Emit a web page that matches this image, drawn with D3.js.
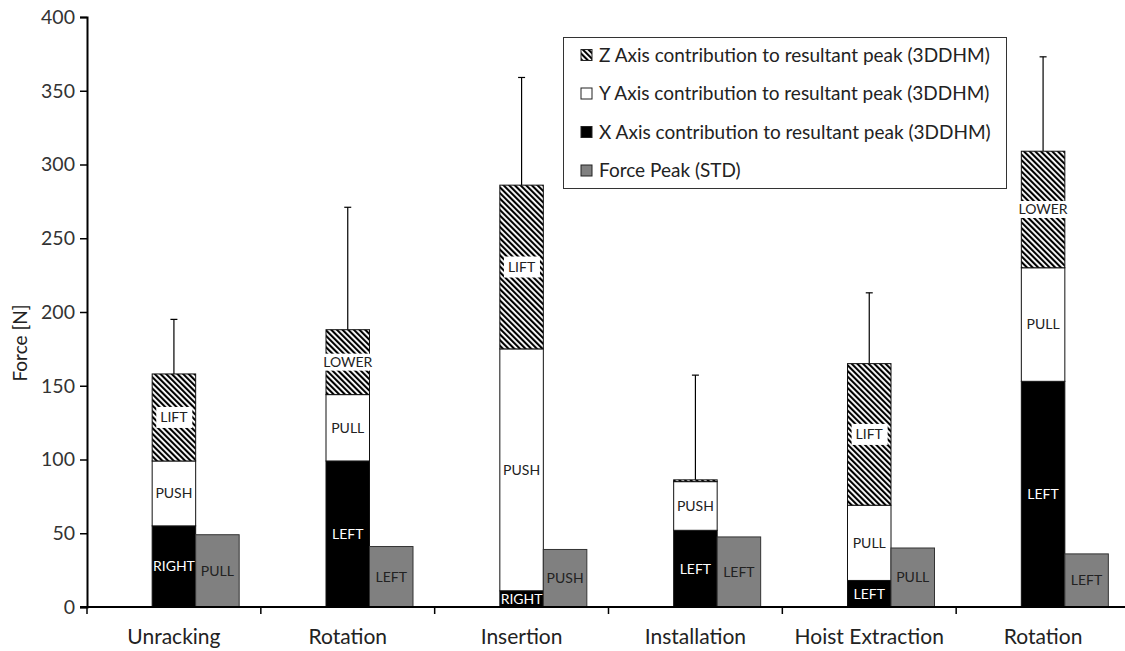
<!DOCTYPE html>
<html>
<head>
<meta charset="utf-8">
<script src="https://cdn.jsdelivr.net/npm/d3@7"></script>
<style>
  html, body { margin: 0; padding: 0; background: #fff; }
  svg { display: block; font-family: Lato, "Open Sans", sans-serif; }
</style>
</head>
<body>
<svg id="chart" width="1125" height="651"></svg>
<script>
// Tasks (two different "Rotation" tasks, so bars are keyed by index)
const categories = ["Unracking", "Rotation", "Insertion", "Installation", "Hoist Extraction", "Rotation"];

// Axis contributions to the resultant peak (3DDHM), in N
const xAxisForce = [55, 99, 11, 52, 18, 153];
const yAxisForce = [44, 45, 164, 33, 51, 77];
const zAxisForce = [59, 44, 111, 1.2, 96, 79];
// Upward error on the resultant peak
const resultantError = [37, 83, 73, 71, 48, 64];
// Force peak measured with the standard method
const forcePeakSTD = [49, 41, 39, 47.5, 40, 36];

// Direction labels drawn inside each segment
const xLabels = ["RIGHT", "LEFT", "RIGHT", "LEFT", "LEFT", "LEFT"];
const yLabels = ["PUSH", "PULL", "PUSH", "PUSH", "PULL", "PULL"];
const zLabels = ["LIFT", "LOWER", "LIFT", "", "LIFT", "LOWER"];
const stdLabels = ["PULL", "LEFT", "PUSH", "LEFT", "PULL", "LEFT"];

const yTicks = [0, 50, 100, 150, 200, 250, 300, 350, 400];

const legendItems = [
  { key: "z", text: "Z Axis contribution to resultant peak (3DDHM)" },
  { key: "y", text: "Y Axis contribution to resultant peak (3DDHM)" },
  { key: "x", text: "X Axis contribution to resultant peak (3DDHM)" },
  { key: "std", text: "Force Peak (STD)" }
];

const svg = d3.select("#chart");
const plotLeft = 87, plotRight = 1130, plotTop = 17, plotBottom = 607;

const x = d3.scaleBand().domain(d3.range(categories.length)).range([plotLeft, plotRight]);
const y = d3.scaleLinear().domain([0, 400]).range([plotBottom, plotTop]);
const barW = 43.5;

// Hatch pattern for the Z contribution (wide downward diagonal)
const defs = svg.append("defs");
const pat = defs.append("pattern")
  .attr("id", "hatch")
  .attr("patternUnits", "userSpaceOnUse")
  .attr("width", 4).attr("height", 4)
  .attr("patternTransform", "rotate(-45)");
pat.append("rect").attr("width", 4).attr("height", 4).attr("fill", "#fff");
pat.append("rect").attr("width", 2.1).attr("height", 4).attr("fill", "#000");

const fills = { x: "#000", y: "#fff", z: "url(#hatch)", std: "#808080" };

// Stacked segments
const rows = categories.map((c, i) => {
  const x1 = xAxisForce[i];
  const y1 = x1 + yAxisForce[i];
  const z1 = y1 + zAxisForce[i];
  return [
    { i, key: "x", v0: 0, v1: x1, label: xLabels[i] },
    { i, key: "y", v0: x1, v1: y1, label: yLabels[i] },
    { i, key: "z", v0: y1, v1: z1, label: zLabels[i] }
  ];
});
const segs = rows.flat();
const totals = rows.map(r => r[2].v1);

const barX = i => x(i) + x.bandwidth() / 2 - barW / 2;

// Error bars (up only)
const err = svg.append("g").attr("stroke", "#000").attr("stroke-width", 1.2);
categories.forEach((c, i) => {
  const cx = barX(i) + barW / 2;
  err.append("line").attr("x1", cx).attr("x2", cx)
    .attr("y1", y(totals[i])).attr("y2", y(totals[i] + resultantError[i]));
  err.append("line").attr("x1", cx - 3.5).attr("x2", cx + 3.5)
    .attr("y1", y(totals[i] + resultantError[i])).attr("y2", y(totals[i] + resultantError[i]));
});

svg.append("g").selectAll("rect").data(segs).join("rect")
  .attr("x", d => barX(d.i))
  .attr("y", d => y(d.v1))
  .attr("width", barW)
  .attr("height", d => y(d.v0) - y(d.v1))
  .attr("fill", d => fills[d.key])
  .attr("stroke", "#111")
  .attr("stroke-width", 1);

// STD force peak bars, next to the stacked bar
svg.append("g").selectAll("rect").data(forcePeakSTD).join("rect")
  .attr("x", (d, i) => barX(i) + barW)
  .attr("y", d => y(d))
  .attr("width", barW)
  .attr("height", d => y(0) - y(d))
  .attr("fill", fills.std)
  .attr("stroke", "#333")
  .attr("stroke-width", 1);

// Segment labels
const lab = svg.append("g").attr("font-size", 14).attr("text-anchor", "middle");
segs.filter(d => d.label).forEach(d => {
  const cx = barX(d.i) + barW / 2;
  const cy = y((d.v0 + d.v1) / 2);
  if (d.key === "z") {
    const bg = lab.append("rect").attr("fill", "#fff");
    const t = lab.append("text").attr("x", cx).attr("y", cy).attr("dy", "0.35em")
      .attr("fill", "#222").text(d.label);
    const bb = t.node().getBBox();
    const h = d.label === "LIFT" ? 21 : 17;
    bg.attr("x", bb.x - 4).attr("y", cy - h / 2)
      .attr("width", bb.width + 8).attr("height", h);
  } else {
    lab.append("text").attr("x", cx).attr("y", cy).attr("dy", "0.35em")
      .attr("fill", d.key === "x" ? "#fff" : "#222").text(d.label);
  }
});
forcePeakSTD.forEach((v, i) => {
  lab.append("text").attr("x", barX(i) + barW * 1.5).attr("y", y(v / 2)).attr("dy", "0.35em")
    .attr("fill", "#222").text(stdLabels[i]);
});

// Axes
const yAxis = svg.append("g").attr("transform", `translate(${plotLeft},0)`)
  .call(d3.axisLeft(y).tickValues(yTicks).tickSize(7).tickPadding(5));
yAxis.select(".domain").attr("stroke", "#000").attr("stroke-width", 2);
yAxis.selectAll(".tick line").attr("stroke", "#000").attr("stroke-width", 1.5);
yAxis.selectAll(".tick text").attr("font-size", 19.5).attr("fill", "#333")
  .attr("font-family", "Lato, sans-serif");

const xAxis = svg.append("g").attr("transform", `translate(0,${plotBottom})`);
xAxis.append("line").attr("x1", plotLeft - 7).attr("x2", plotRight).attr("y1", 0).attr("y2", 0)
  .attr("stroke", "#000").attr("stroke-width", 2);
xAxis.selectAll("line.tk").data(d3.range(categories.length + 1)).join("line")
  .attr("class", "tk")
  .attr("x1", i => plotLeft + i * x.step()).attr("x2", i => plotLeft + i * x.step())
  .attr("y1", 0).attr("y2", 7)
  .attr("stroke", "#000").attr("stroke-width", 1.5);
xAxis.selectAll("text").data(categories).join("text")
  .attr("x", (d, i) => x(i) + x.bandwidth() / 2)
  .attr("y", 37)
  .attr("text-anchor", "middle")
  .attr("font-size", 21)
  .attr("fill", "#222")
  .text(d => d);

svg.append("text")
  .attr("transform", `translate(27,343) rotate(-90)`)
  .attr("text-anchor", "middle")
  .attr("font-size", 19)
  .attr("fill", "#222")
  .text("Force [N]");

// Legend
const lg = svg.append("g");
lg.append("rect").attr("x", 563.5).attr("y", 37.5).attr("width", 443).attr("height", 151)
  .attr("fill", "#fff").attr("stroke", "#333").attr("stroke-width", 1);
legendItems.forEach((it, k) => {
  const cy = 55 + k * 38.5;
  lg.append("rect").attr("x", 581).attr("y", cy - 5.5).attr("width", 11).attr("height", 11)
    .attr("fill", fills[it.key]).attr("stroke", "#222").attr("stroke-width", 1);
  lg.append("text").attr("x", 599).attr("y", cy).attr("dy", "0.36em")
    .attr("font-size", 19).attr("fill", "#222").text(it.text);
});
</script>
</body>
</html>
